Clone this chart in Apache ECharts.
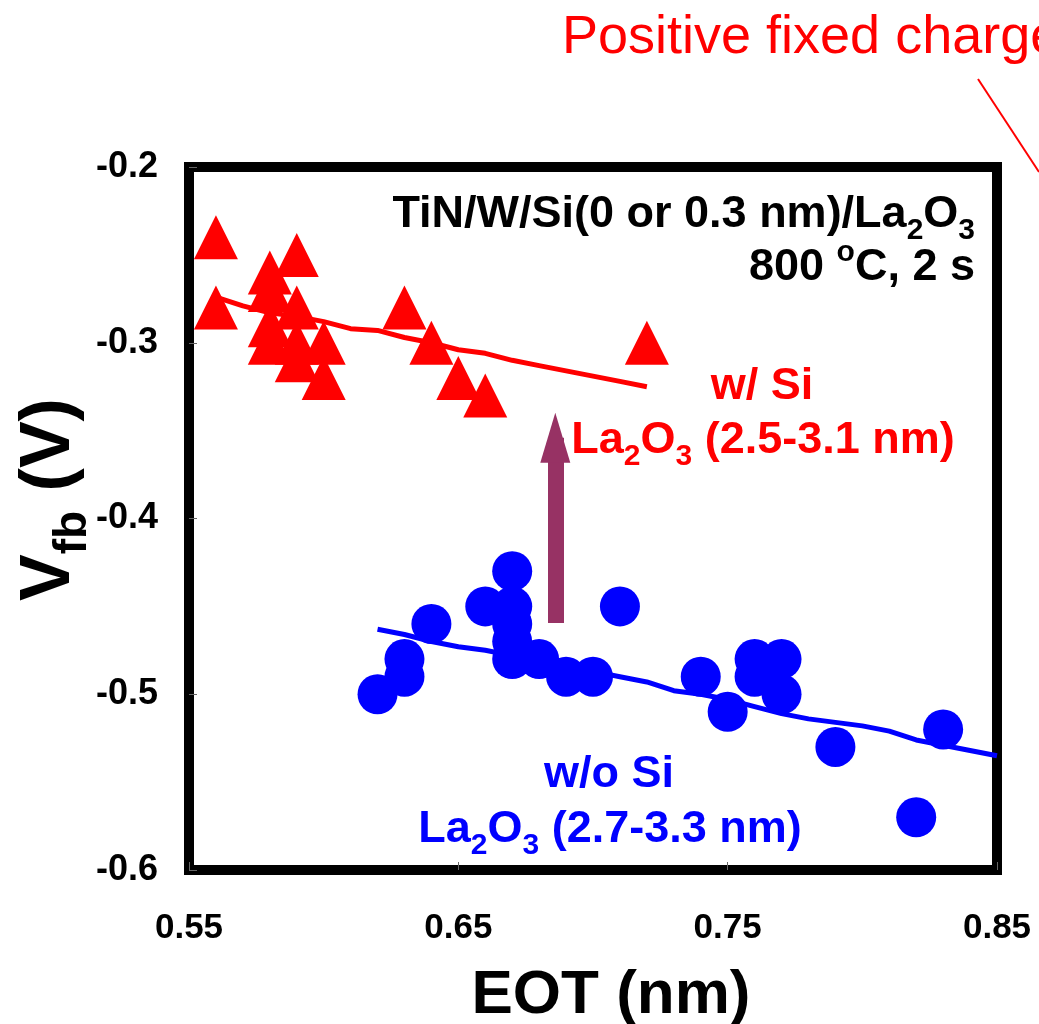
<!DOCTYPE html>
<html>
<head>
    <meta http-equiv=Content-Type content="text/html; charset=utf-8">
    <title>Vfb vs EOT</title>
    <script type="text/javascript" src="https://cdn.jsdelivr.net/npm/echarts@6/dist/echarts.min.js"></script>
    <style>
        html, body {margin: 0; padding: 0; background: #fff;}
        #chartmain {width: 1039px; height: 1024px;}
    </style>
</head>
<body>
<div id="chartmain"></div>

<script type="text/javascript">
    // w/ Si (triangles)
    var redX = [0.56, 0.56, 0.58, 0.58, 0.58, 0.58, 0.59, 0.59, 0.59, 0.59, 0.60, 0.60, 0.63, 0.64, 0.65, 0.66, 0.72];
    var redY = [-0.24, -0.28, -0.26, -0.27, -0.29, -0.30, -0.25, -0.28, -0.30, -0.31, -0.30, -0.32, -0.28, -0.30, -0.32, -0.33, -0.30];
    // w/o Si (circles)
    var blueX = [0.62, 0.63, 0.63, 0.64, 0.66, 0.67, 0.67, 0.67, 0.67, 0.67, 0.68, 0.69, 0.70, 0.71, 0.74, 0.75, 0.76, 0.76, 0.77, 0.77, 0.79, 0.82, 0.83];
    var blueY = [-0.50, -0.48, -0.49, -0.46, -0.45, -0.43, -0.45, -0.46, -0.47, -0.48, -0.48, -0.49, -0.49, -0.45, -0.49, -0.51, -0.48, -0.49, -0.48, -0.50, -0.53, -0.57, -0.52];
    // trend lines
    var redFitX = [0.56, 0.57, 0.58, 0.59, 0.60, 0.61, 0.62, 0.63, 0.64, 0.65, 0.66, 0.67, 0.68, 0.69, 0.70, 0.71, 0.72];
    var redFitY = [-0.274, -0.279, -0.283, -0.285, -0.288, -0.292, -0.293, -0.297, -0.300, -0.304, -0.306, -0.310, -0.313, -0.316, -0.319, -0.322, -0.325];
    var blueFitX = [0.62, 0.63, 0.64, 0.65, 0.66, 0.67, 0.68, 0.69, 0.70, 0.71, 0.72, 0.73, 0.74, 0.75, 0.76, 0.77, 0.78, 0.79, 0.80, 0.81, 0.82, 0.83, 0.84, 0.85];
    var blueFitY = [-0.463, -0.466, -0.470, -0.473, -0.475, -0.478, -0.481, -0.484, -0.487, -0.490, -0.493, -0.498, -0.500, -0.503, -0.507, -0.511, -0.514, -0.516, -0.518, -0.521, -0.526, -0.529, -0.532, -0.535];
    // arrow (shift of Vfb)
    var arrowX = 0.686;
    var arrowY = [-0.4595, -0.354];

    var xTickLabels = ['0.55', '0.65', '0.75', '0.85'];
    var yTickLabels = ['-0.6', '-0.5', '-0.4', '-0.3', '-0.2'];

    function zip(xs, ys) {
        var out = [];
        for (var i = 0; i < xs.length; i++) {
            out.push([xs[i], ys[i]]);
        }
        return out;
    }

    var FONT = 'Liberation Sans';
    // n = normal, s = subscript, p = superscript
    var subRich = function (color, size, subSize) {
        return {
            n: {fontFamily: FONT, fontWeight: 'bold', fontSize: size, fill: color, lineHeight: size},
            s: {fontFamily: FONT, fontWeight: 'bold', fontSize: subSize, fill: color, verticalAlign: 'bottom', lineHeight: size + 16},
            p: {fontFamily: FONT, fontWeight: 'bold', fontSize: subSize, fill: color, verticalAlign: 'top', lineHeight: size + 16}
        };
    };

    function richText(x, y, text, color, align) {
        return {
            type: 'text',
            x: x,
            y: y,
            silent: true,
            style: {
                text: text,
                fill: color,
                align: align,
                verticalAlign: 'middle',
                rich: subRich(color, 45, 30)
            }
        };
    }

    var myChart = echarts.init(document.getElementById('chartmain'));

    var option = {
        animation: false,
        backgroundColor: '#fff',
        grid: {
            left: 189,
            right: 42,
            top: 167,
            bottom: 154,
            outerBoundsMode: 'none',
            containLabel: false,
            show: true,
            borderColor: '#000',
            borderWidth: 10,
            backgroundColor: 'transparent'
        },
        xAxis: {
            type: 'value',
            min: 0.55,
            max: 0.85,
            interval: 0.1,
            name: 'EOT (nm)',
            nameLocation: 'middle',
            nameGap: 95,
            nameMoveOverlap: false,
            nameTextStyle: {fontFamily: FONT, fontWeight: 'bold', fontSize: 62, color: '#000', padding: [0, 0, 0, 36]},
            axisLine: {show: false},
            axisTick: {show: true, inside: true, length: 8, lineStyle: {color: '#666', width: 1}},
            splitLine: {show: false},
            axisLabel: {
                margin: 41,
                fontFamily: FONT,
                fontWeight: 'bold',
                fontSize: 35,
                color: '#000',
                formatter: function (v, i) { return xTickLabels[i]; }
            }
        },
        yAxis: {
            type: 'value',
            min: -0.6,
            max: -0.2,
            interval: 0.1,
            name: '{v|V}{s|fb}{v| (V)}',
            nameLocation: 'middle',
            nameRotate: 90,
            nameGap: 93,
            nameMoveOverlap: false,
            nameTextStyle: {
                padding: [0, 0, 0, 38],
                rich: {
                    v: {fontFamily: FONT, fontWeight: 'bold', fontSize: 70, color: '#000', lineHeight: 70},
                    s: {fontFamily: FONT, fontWeight: 'bold', fontSize: 46, color: '#000', verticalAlign: 'bottom', lineHeight: 92}
                }
            },
            axisLine: {show: false},
            axisTick: {show: true, inside: true, length: 8, lineStyle: {color: '#666', width: 1}},
            splitLine: {show: false},
            axisLabel: {
                margin: 31,
                fontFamily: FONT,
                fontWeight: 'bold',
                fontSize: 36,
                color: '#000',
                formatter: function (v, i) { return yTickLabels[i]; }
            }
        },
        series: [
            {
                name: 'w/o Si fit',
                type: 'line',
                data: zip(blueFitX, blueFitY),
                showSymbol: false,
                symbol: 'none',
                lineStyle: {color: '#0000ff', width: 5},
                z: 2
            },
            {
                name: 'w/o Si',
                type: 'scatter',
                data: zip(blueX, blueY),
                symbol: 'circle',
                symbolSize: 40,
                itemStyle: {color: '#0000ff', opacity: 1},
                z: 3
            },
            {
                name: 'w/ Si fit',
                type: 'line',
                data: zip(redFitX, redFitY),
                showSymbol: false,
                symbol: 'none',
                lineStyle: {color: '#ff0000', width: 5},
                z: 2,
                markLine: {
                    silent: true,
                    symbol: ['none', 'triangle'],
                    symbolSize: [30, 50],
                    label: {show: false},
                    lineStyle: {color: '#973264', width: 16, type: 'solid', opacity: 1},
                    data: [[{coord: [arrowX, arrowY[0]]}, {coord: [arrowX, arrowY[1]]}]]
                }
            },
            {
                name: 'w/ Si',
                type: 'scatter',
                data: zip(redX, redY),
                symbol: 'triangle',
                symbolSize: 44,
                itemStyle: {color: '#ff0000', opacity: 1},
                z: 3
            }
        ],
        graphic: [
            richText(975, 215, '{n|TiN/W/Si(0 or 0.3 nm)/La}{s|2}{n|O}{s|3}', '#000', 'right'),
            richText(975, 268, '{n|800 }{p|o}{n|C, 2 s}', '#000', 'right'),
            richText(762, 387, '{n|w/ Si}', '#ff0000', 'center'),
            richText(763, 441, '{n|La}{s|2}{n|O}{s|3}{n| (2.5-3.1 nm)}', '#ff0000', 'center'),
            richText(609, 775, '{n|w/o Si}', '#0000ff', 'center'),
            richText(610, 830, '{n|La}{s|2}{n|O}{s|3}{n| (2.7-3.3 nm)}', '#0000ff', 'center'),
            {
                type: 'text',
                x: 562,
                y: 38,
                silent: true,
                style: {
                    text: 'Positive fixed charge',
                    fontFamily: FONT,
                    fontSize: 54,
                    fill: '#ff0000',
                    align: 'left',
                    verticalAlign: 'middle'
                }
            },
            {
                type: 'line',
                silent: true,
                shape: {x1: 978, y1: 79, x2: 1039, y2: 172},
                style: {stroke: '#ff0000', lineWidth: 2}
            }
        ]
    };

    myChart.setOption(option);
</script>
</body>
</html>
